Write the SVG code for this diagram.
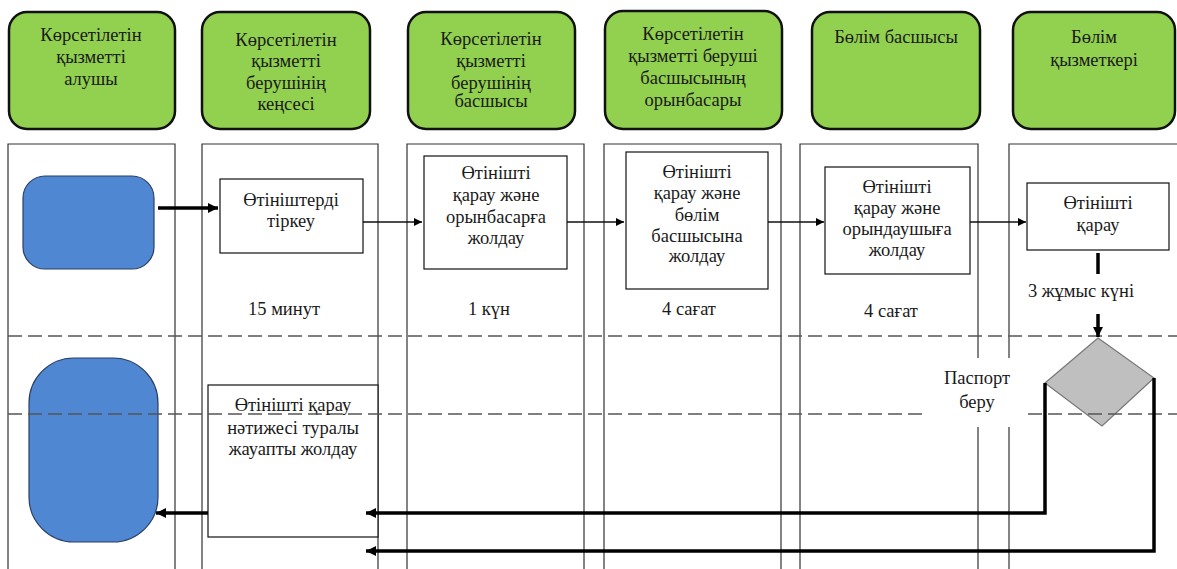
<svg xmlns="http://www.w3.org/2000/svg" width="1177" height="569" viewBox="0 0 1177 569">
<style>
.hdr{fill:#92d050;stroke:#111;stroke-width:2.5}
.lane{fill:none;stroke:#333;stroke-width:1.2}
.box{fill:#fff;stroke:#111;stroke-width:1.2}
.blue{fill:#4f87d2;stroke:#2a3f66;stroke-width:1.2}
.t{font-family:"Liberation Serif","DejaVu Serif",serif;font-size:18.5px;fill:#1a1a1a;text-anchor:middle}
.thin{fill:none;stroke:#111;stroke-width:1.3}
.thick{fill:none;stroke:#000;stroke-width:3.5}
.dash{fill:none;stroke:#555;stroke-width:1.6;stroke-dasharray:14 6}
</style>
<defs>
<marker id="a" viewBox="0 0 10 10" refX="10" refY="5" markerWidth="10" markerHeight="8" markerUnits="userSpaceOnUse" orient="auto"><path d="M0,0L10,5L0,10z" fill="#000"/></marker>
<marker id="b" viewBox="0 0 10 10" refX="10" refY="5" markerWidth="12" markerHeight="10" markerUnits="userSpaceOnUse" orient="auto"><path d="M0,0L10,5L0,10z" fill="#000"/></marker>
</defs>
<rect width="1177" height="569" fill="#fff"/>
<g id="lanes">
<path class="lane" d="M8,569V144H175V569M202,569V144H378V569M407,569V144H584V569M604,569V144H781V569M800,569V144H978V358M978,427V569M1009,569V427M1009,358V144H1177"/>
</g>
<g id="h1"><rect class="hdr" x="9" y="12" width="166" height="117" rx="18"/><text class="t" x="91" y="41">Көрсетілетін</text><text class="t" x="91" y="63">қызметті</text><text class="t" x="91" y="85">алушы</text></g>
<g id="h2"><rect class="hdr" x="202" y="12" width="168" height="117" rx="18"/><text class="t" x="286" y="46">Көрсетілетін</text><text class="t" x="286" y="67">қызметті</text><text class="t" x="286" y="89">берушінің</text><text class="t" x="286" y="110">кеңсесі</text></g>
<g id="h3"><rect class="hdr" x="408" y="12" width="167" height="117" rx="18"/><text class="t" x="491" y="45">Көрсетілетін</text><text class="t" x="491" y="67">қызметті</text><text class="t" x="491" y="89">берушінің</text><text class="t" x="491" y="107">басшысы</text></g>
<g id="h4"><rect class="hdr" x="605" y="11" width="177" height="118" rx="18"/><text class="t" x="693" y="40">Көрсетілетін</text><text class="t" x="693" y="62">қызметті беруші</text><text class="t" x="693" y="84">басшысының</text><text class="t" x="693" y="106">орынбасары</text></g>
<g id="h5"><rect class="hdr" x="812" y="12" width="168" height="117" rx="18"/><text class="t" x="896" y="43">Бөлім басшысы</text></g>
<g id="h6"><rect class="hdr" x="1013" y="12" width="162" height="117" rx="18"/><text class="t" x="1094" y="43">Бөлім</text><text class="t" x="1094" y="66">қызметкері</text></g>
<g id="start"><rect class="blue" x="23" y="176" width="131" height="93" rx="22"/></g>
<g id="end"><rect class="blue" x="29" y="358" width="129" height="184" rx="45"/></g>
<g id="n1"><rect class="box" x="220" y="179" width="143" height="74"/><text class="t" x="291" y="206">Өтініштерді</text><text class="t" x="291" y="227">тіркеу</text></g>
<g id="n2"><rect class="box" x="424" y="156" width="143" height="113"/><text class="t" x="496" y="179">Өтінішті</text><text class="t" x="496" y="201">қарау және</text><text class="t" x="496" y="223">орынбасарға</text><text class="t" x="496" y="244">жолдау</text></g>
<g id="n3"><rect class="box" x="626" y="152" width="142" height="137"/><text class="t" x="697" y="178">Өтінішті</text><text class="t" x="697" y="199">қарау және</text><text class="t" x="697" y="221">бөлім</text><text class="t" x="697" y="242">басшысына</text><text class="t" x="697" y="262">жолдау</text></g>
<g id="n4"><rect class="box" x="825" y="167" width="145" height="107"/><text class="t" x="897" y="193">Өтінішті</text><text class="t" x="897" y="214">қарау және</text><text class="t" x="897" y="235">орындаушыға</text><text class="t" x="897" y="256">жолдау</text></g>
<g id="n5"><rect class="box" x="1027" y="183" width="142" height="67"/><text class="t" x="1098" y="209">Өтінішті</text><text class="t" x="1098" y="231">қарау</text></g>
<g id="n6"><rect class="box" x="208" y="385" width="170" height="152"/></g>
<g id="dec"><path d="M1098,338L1154,378L1102,426L1045,383z" fill="#bfbfbf" stroke="#777" stroke-width="1.2"/></g>
<g id="labels">
<text class="t" x="284" y="315">15 минут</text>
<text class="t" x="489" y="315">1 күн</text>
<text class="t" x="689" y="315">4 сағат</text>
<text class="t" x="891" y="317">4 сағат</text>
<text class="t" x="1081" y="297">3 жұмыс күні</text>
</g>
<g id="dashes">
<path class="dash" d="M8,336H1177"/>
<path class="dash" d="M8,414H923M1028,414H1177"/>
</g>
<g id="n6text"><text class="t" x="293" y="411">Өтінішті қарау</text><text class="t" x="293" y="434">нәтижесі туралы</text><text class="t" x="293" y="455">жауапты жолдау</text></g>
<g id="connectors">
<path class="thick" d="M158,208H218" marker-end="url(#b)"/>
<path class="thin" d="M363,222H422" marker-end="url(#a)"/>
<path class="thin" d="M567,222H624" marker-end="url(#a)"/>
<path class="thin" d="M768,222H824" marker-end="url(#a)"/>
<path class="thin" d="M970,222H1026" marker-end="url(#a)"/>
<path class="thick" d="M1098,253V274"/>
<path class="thick" d="M1098,314V337" marker-end="url(#b)"/>
<path class="thick" d="M1045,383V513H366" marker-end="url(#b)"/>
<path class="thick" d="M1154,378V551H366" marker-end="url(#b)"/>
<path class="thick" d="M208,513H156" marker-end="url(#b)"/>
</g>
<g id="passport"><text class="t" x="977" y="384">Паспорт</text><text class="t" x="977" y="408">беру</text></g>
</svg>
